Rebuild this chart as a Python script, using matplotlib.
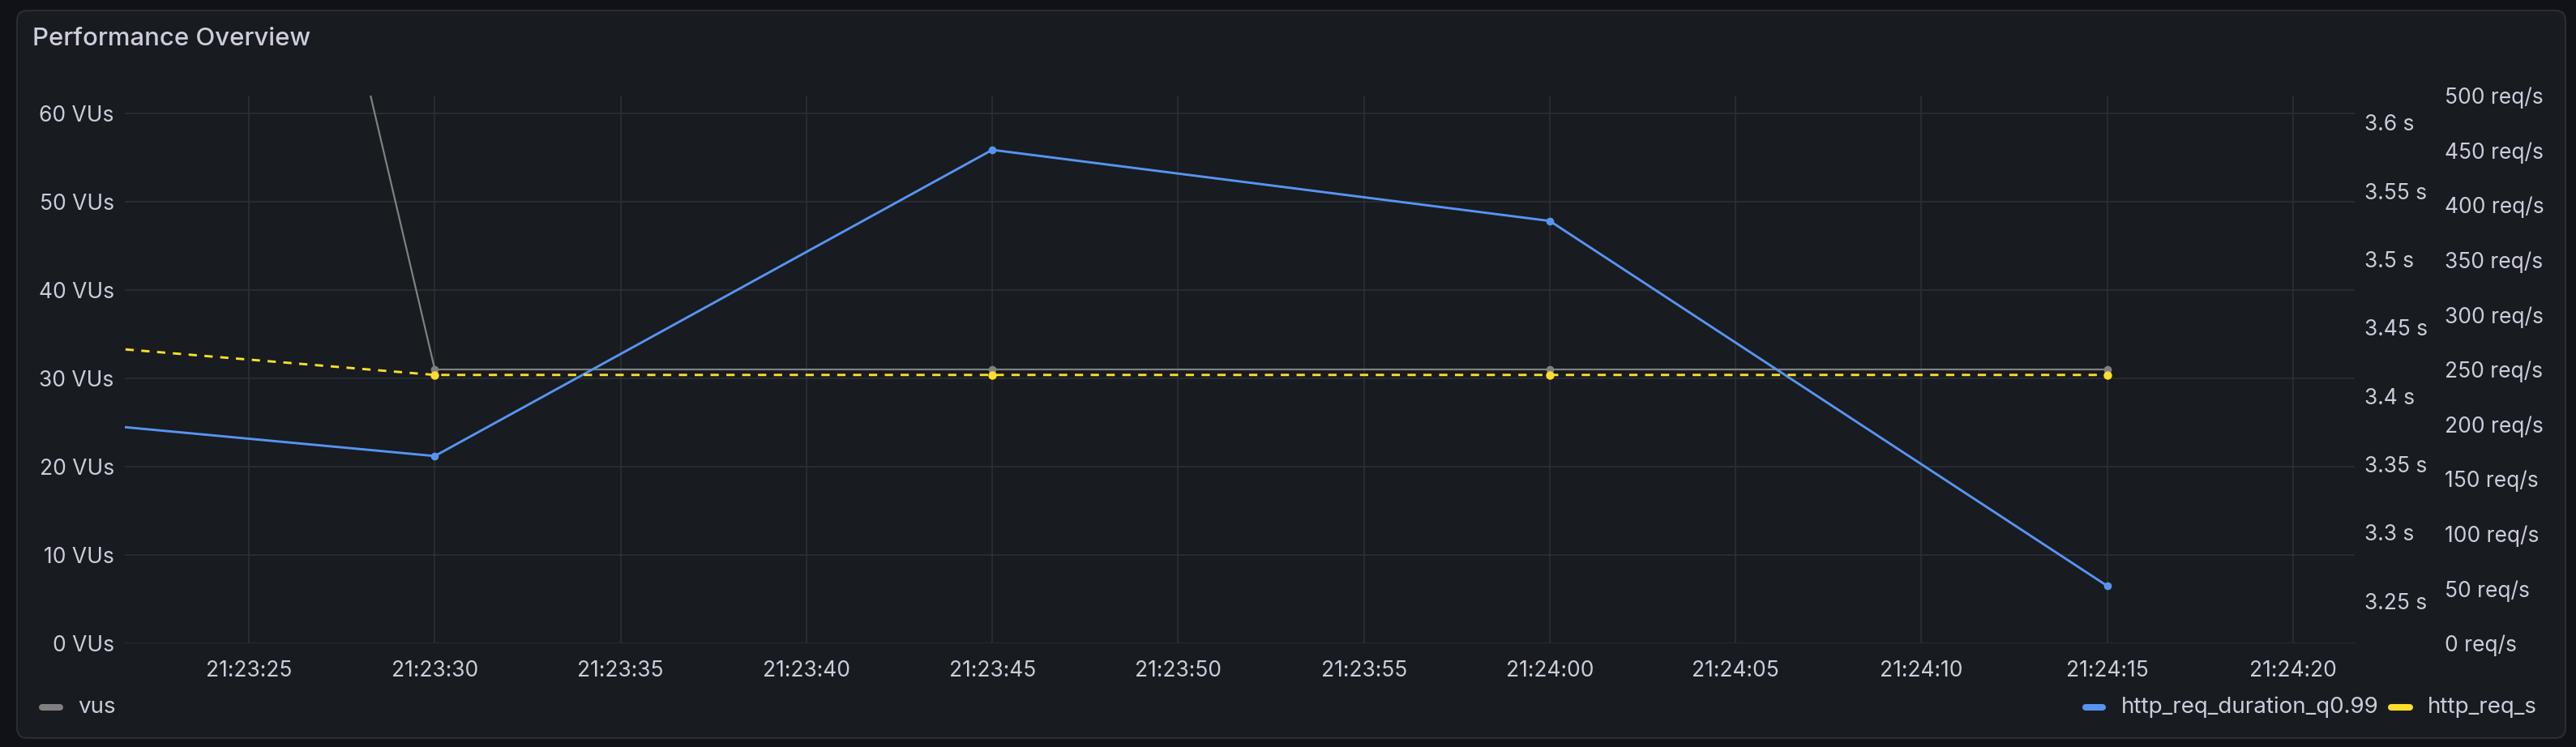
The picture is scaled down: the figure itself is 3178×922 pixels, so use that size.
import matplotlib
matplotlib.use("Agg")
import matplotlib.pyplot as plt
import matplotlib.dates as mdates
from matplotlib.patches import FancyBboxPatch
from matplotlib.lines import Line2D
from matplotlib.ticker import FixedLocator, FuncFormatter
import pandas as pd

# ---------------- data ----------------
times = ["21:23:15", "21:23:30", "21:23:45", "21:24:00", "21:24:15"]
vus = [300, 31, 31, 31, 31]
http_req_duration_q099 = [3.394, 3.356, 3.580, 3.528, 3.261]
http_req_s = [287, 245, 245, 245, 245]

x_range = ["21:23:21.66", "21:24:21.66"]
vus_ticks = [0, 10, 20, 30, 40, 50, 60]
sec_ticks = [3.25, 3.3, 3.35, 3.4, 3.45, 3.5, 3.55, 3.6]
rps_ticks = [0, 50, 100, 150, 200, 250, 300, 350, 400, 450, 500]
vus_lim = (0, 62.0)
sec_lim = (3.219, 3.6197)
rps_lim = (0, 500)

title = "Performance Overview"
series_names = ["vus", "http_req_duration_q0.99", "http_req_s"]

# ---------------- style ----------------
W, H = 3178, 922
DPI = 100
BG = "#111217"
PANEL = "#181b1f"
BORDER = "#2a2d32"
TEXT = "#ccccdc"
GRID = "#2c2f33"
C_VUS = "#808080"
C_DUR = "#5794f2"
C_RPS = "#fade2a"
FONT = ["Inter", "DejaVu Sans"]
FS = 19
FS_LEG = 20
plt.rcParams["font.family"] = FONT

day = "2024-01-01 "
t = pd.to_datetime([day + s for s in times])
xlim = pd.to_datetime([day + s for s in x_range])

fig = plt.figure(figsize=(W / DPI, H / DPI), dpi=DPI, facecolor=BG)

def fx(px):
    return px / W

def fy(py):
    return 1 - py / H

panel = FancyBboxPatch((fx(21), fy(911)), fx(3165) - fx(21), fy(13) - fy(911),
                       boxstyle="round,pad=0,rounding_size=0.004",
                       transform=fig.transFigure, facecolor=PANEL,
                       edgecolor=BORDER, linewidth=1.5, zorder=-10,
                       mutation_aspect=W / H)
fig.patches.append(panel)

fig.text(fx(40), fy(48), title, color=TEXT, fontsize=22.4, fontweight="medium",
         va="center", ha="left")

left, right, top, bottom = 154, 2905, 118, 794
ax = fig.add_axes([fx(left), fy(bottom), fx(right) - fx(left), (bottom - top) / H])
ax.set_facecolor("none")
ax2 = ax.twinx()
ax3 = ax.twinx()
for a in (ax, ax2, ax3):
    a.set_facecolor("none")
    for sp in a.spines.values():
        sp.set_visible(False)

# grid
ax.set_xlim(xlim[0], xlim[1])
ax.set_ylim(*vus_lim)
ax.yaxis.set_major_locator(FixedLocator(vus_ticks))
ax.yaxis.set_major_formatter(FuncFormatter(lambda v, p: f"{v:g} VUs"))
ax.xaxis.set_major_locator(mdates.SecondLocator(bysecond=range(0, 60, 5)))
ax.xaxis.set_major_formatter(mdates.DateFormatter("%H:%M:%S"))
ax.grid(True, color=GRID, linewidth=1.2)
ax.set_axisbelow(True)
ax.tick_params(axis="y", length=0, pad=9.5, labelsize=FS, labelcolor=TEXT)
ax.tick_params(axis="x", length=0, pad=15, labelsize=FS, labelcolor=TEXT)

ax2.set_ylim(*sec_lim)
ax2.yaxis.set_major_locator(FixedLocator(sec_ticks))
ax2.yaxis.set_major_formatter(FuncFormatter(lambda v, p: f"{round(v, 2):g} s"))
ax2.tick_params(axis="y", length=0, pad=8.5, labelsize=FS, labelcolor=TEXT)

ax3.set_ylim(*rps_lim)
ax3.yaxis.set_major_locator(FixedLocator(rps_ticks))
ax3.yaxis.set_major_formatter(FuncFormatter(lambda v, p: f"{v:g} req/s"))
ax3.tick_params(axis="y", length=0, pad=80, labelsize=FS, labelcolor=TEXT)

# series
ax.plot(t, vus, color=C_VUS, linewidth=1.6, marker="o", markersize=7,
        markeredgewidth=0, zorder=3)
ax2.plot(t, http_req_duration_q099, color=C_DUR, linewidth=2.1, marker="o",
         markersize=7, markeredgewidth=0, zorder=3)
ax3.plot(t, http_req_s, color=C_RPS, linewidth=2.1, marker="o", markersize=7.5,
         markeredgewidth=0, dashes=(3.5, 3.2), zorder=4)

# legend
def legend_item(x0, x1, xt, color, label):
    yc = fy(873)
    fig.add_artist(Line2D([fx(x0), fx(x1)], [yc, yc], transform=fig.transFigure,
                          color=color, linewidth=5.8, solid_capstyle="round"))
    fig.text(fx(xt), yc, label, color=TEXT, fontsize=FS_LEG, va="center", ha="left")

legend_item(52, 74, 96, C_VUS, series_names[0])
legend_item(2573, 2594, 2617, C_DUR, series_names[1])
legend_item(2950, 2973, 2995, C_RPS, series_names[2])

fig.savefig("out.png", dpi=DPI, facecolor=BG)
